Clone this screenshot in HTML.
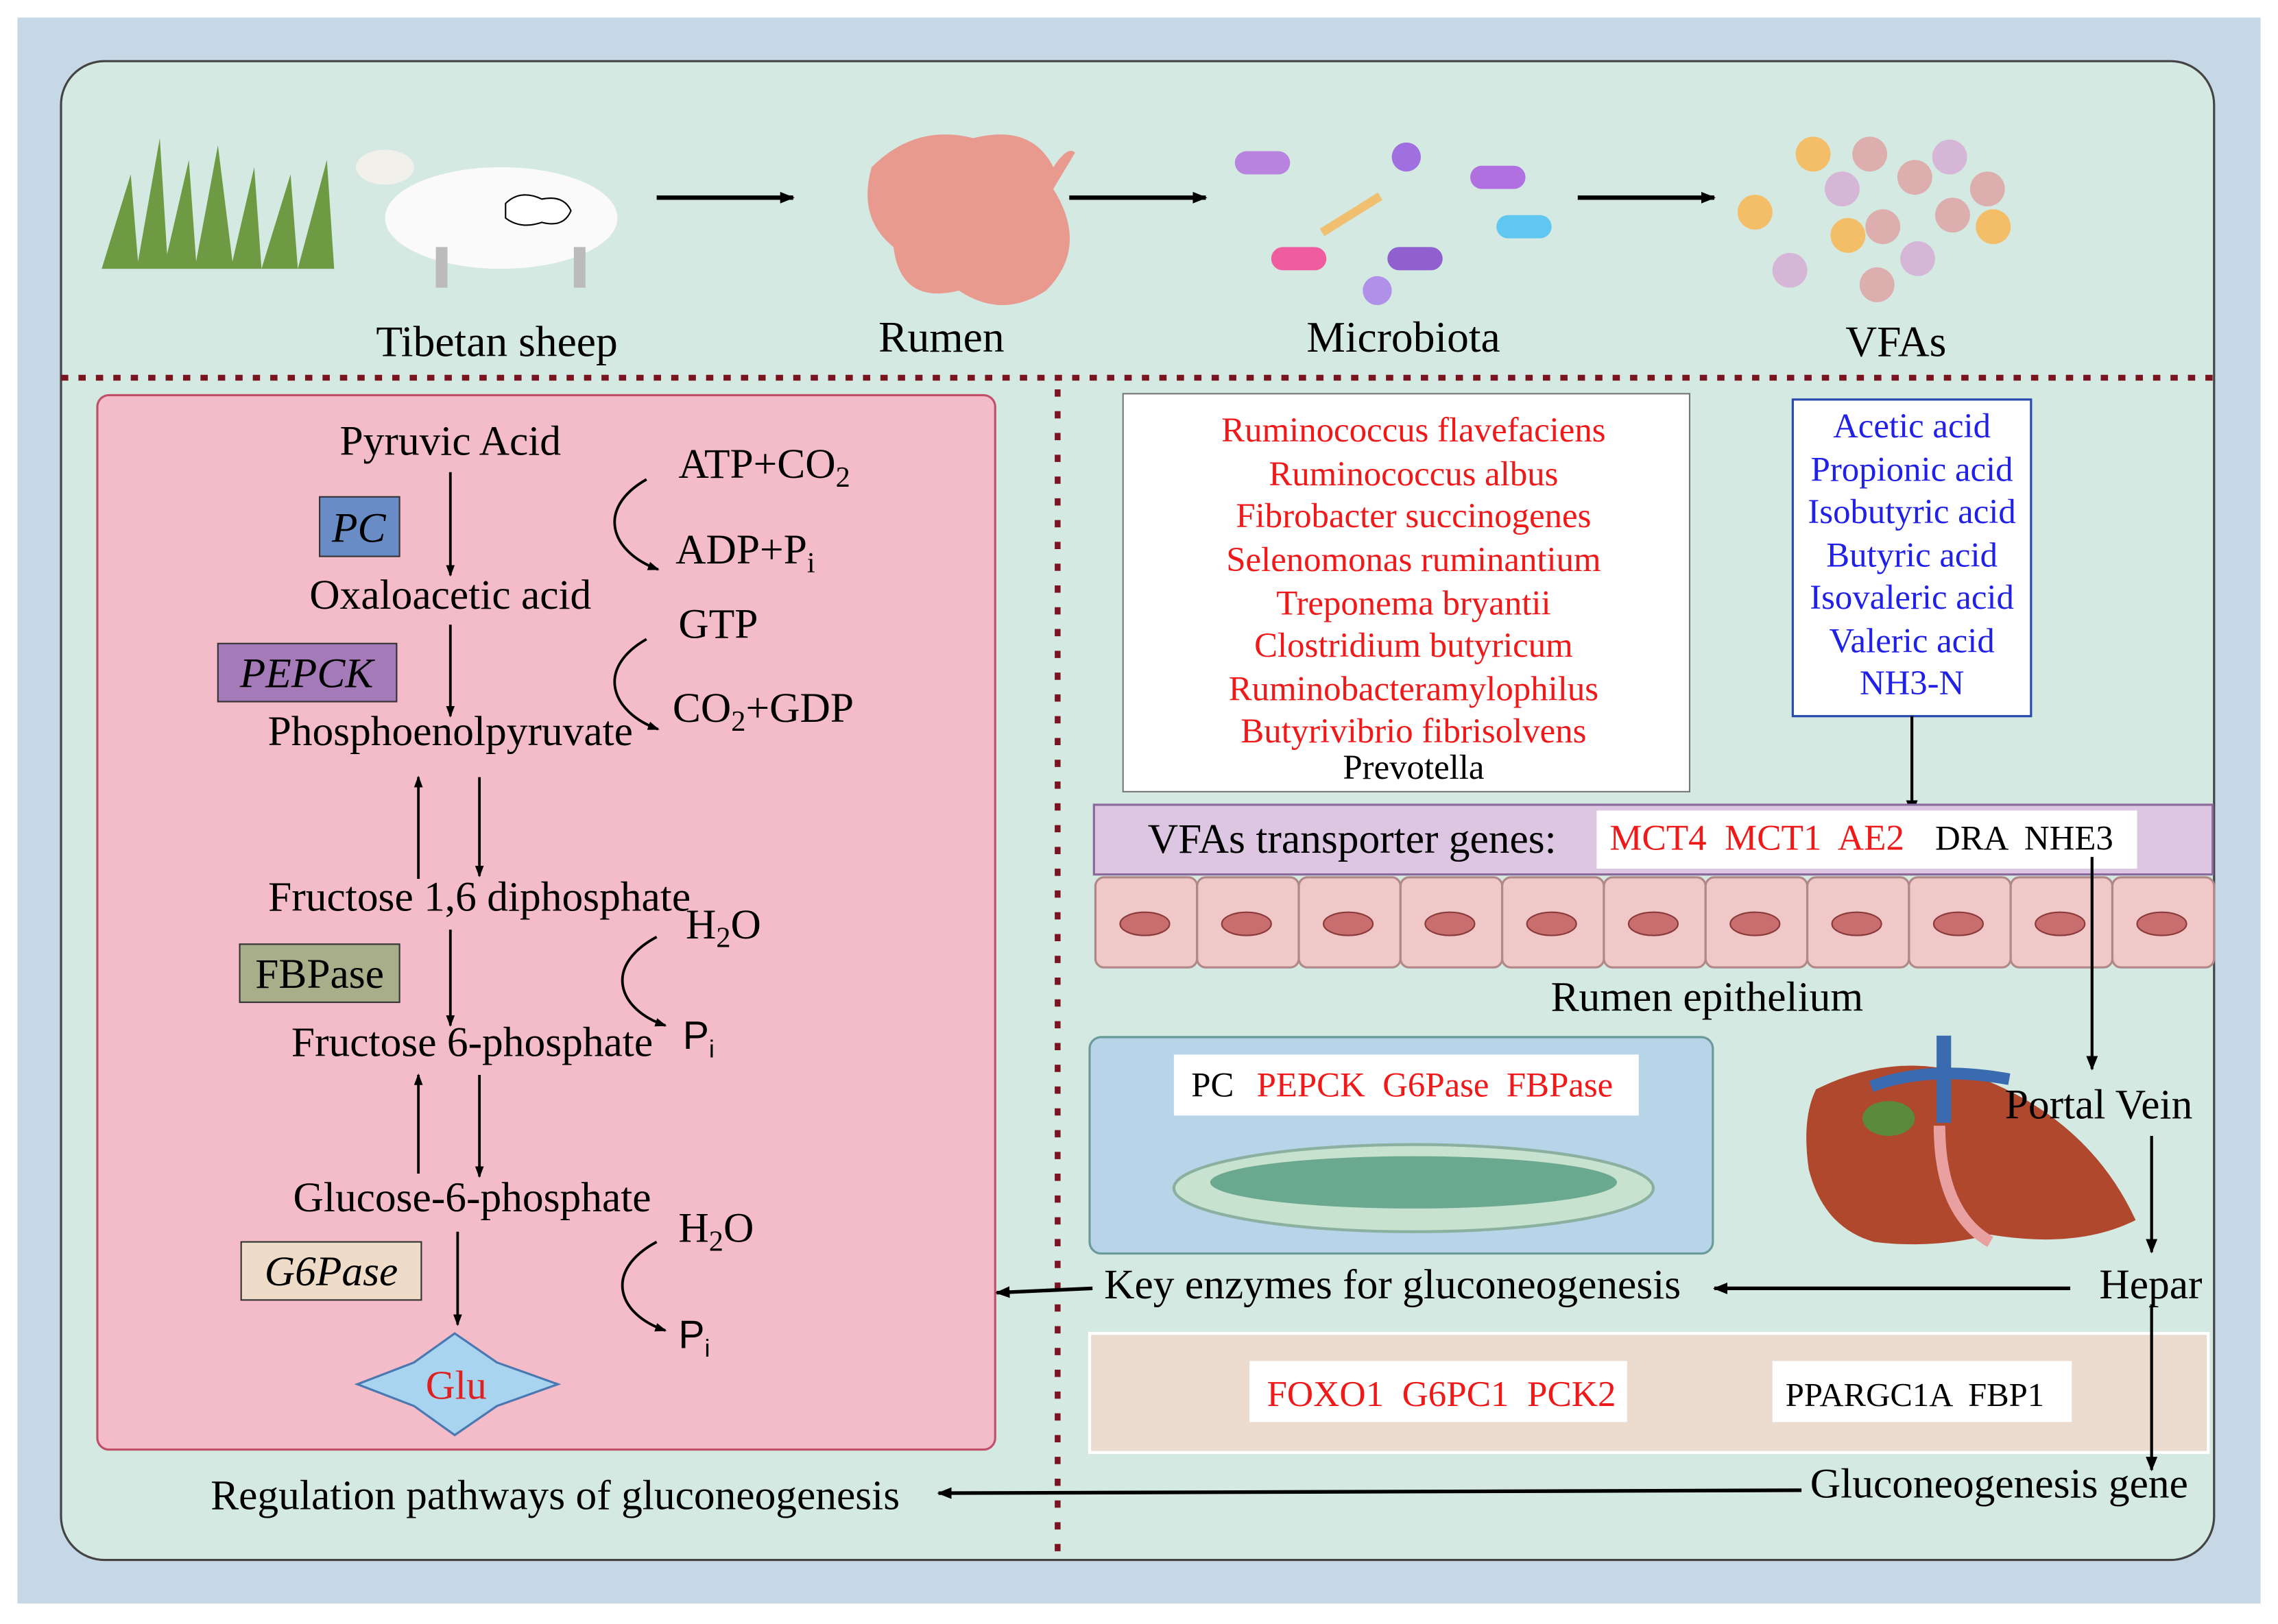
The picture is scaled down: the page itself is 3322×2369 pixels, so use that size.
<!DOCTYPE html>
<html><head><meta charset="utf-8"><style>
html,body{margin:0;padding:0;background:#fff}
svg{display:block}
text{font-family:"Liberation Serif",serif}
</style></head><body>
<svg width="3322" height="2369" viewBox="0 0 1568 1118" xmlns="http://www.w3.org/2000/svg">
<defs>
<marker id="ar" markerWidth="10" markerHeight="10" refX="9" refY="5" orient="auto" markerUnits="userSpaceOnUse"><path d="M0,1 L10,5 L0,9 z" fill="#000"/></marker>
<marker id="as" markerWidth="8" markerHeight="8" refX="7" refY="4" orient="auto" markerUnits="userSpaceOnUse"><path d="M0,1 L8,4 L0,7 z" fill="#000"/></marker>
</defs>
<rect x="0" y="0" width="1568" height="1118" fill="#fff"/>
<rect x="12" y="12" width="1544" height="1092" fill="#c6d7e6"/>
<rect x="42" y="42" width="1482" height="1032" rx="30" fill="#d4e9e1" stroke="#444" stroke-width="1.5"/>
<g>
<path d="M70,185 L90,120 L95,180 L110,95 L115,175 L130,110 L135,180 L150,100 L160,180 L175,115 L180,185 L200,120 L205,185 L225,110 L230,185 Z" fill="#6f9a44"/>
<ellipse cx="345" cy="150" rx="80" ry="35" fill="#fafafa"/>
<ellipse cx="265" cy="115" rx="20" ry="12" fill="#f2f0ea"/>
<rect x="300" y="170" width="8" height="28" fill="#bbb"/><rect x="395" y="170" width="8" height="28" fill="#bbb"/>
<path d="M348,140 q10,-10 25,-3 q15,-3 20,8 q-5,12 -20,8 q-15,5 -25,-3 z" fill="#fff" stroke="#000"/>
<path d="M600,115 q30,-30 70,-20 q40,-10 55,20 q10,-15 15,-10 l-15,25 q25,40 -5,70 q-30,20 -60,0 q-40,10 -45,-30 q-25,-20 -15,-55z" fill="#e89a8e"/>
<rect x="850" y="104" width="38" height="16" rx="8" fill="#b884e0"/>
<rect x="1012" y="114" width="38" height="16" rx="8" fill="#b070e0"/>
<rect x="875" y="170" width="38" height="16" rx="8" fill="#f05ca0"/>
<rect x="955" y="170" width="38" height="16" rx="8" fill="#9060d0"/>
<rect x="1030" y="148" width="38" height="16" rx="8" fill="#60c8f0"/>
<circle cx="968" cy="108" r="10" fill="#a070e0"/>
<circle cx="948" cy="200" r="10" fill="#b090e8"/>
<path d="M910,160 l40,-25" stroke="#f0c070" stroke-width="6"/>
<g fill-opacity="0.9">
<circle cx="1248" cy="106" r="12" fill="#f7b85a"/><circle cx="1287" cy="106" r="12" fill="#dda7a7"/><circle cx="1342" cy="108" r="12" fill="#d6b0d6"/>
<circle cx="1268" cy="130" r="12" fill="#d6b0d6"/><circle cx="1318" cy="122" r="12" fill="#dda7a7"/><circle cx="1368" cy="130" r="12" fill="#dda7a7"/>
<circle cx="1208" cy="146" r="12" fill="#f7b85a"/><circle cx="1296" cy="156" r="12" fill="#dda7a7"/><circle cx="1344" cy="148" r="12" fill="#dda7a7"/>
<circle cx="1272" cy="162" r="12" fill="#f7b85a"/><circle cx="1372" cy="156" r="12" fill="#f7b85a"/><circle cx="1232" cy="186" r="12" fill="#d6b0d6"/>
<circle cx="1320" cy="178" r="12" fill="#d6b0d6"/><circle cx="1292" cy="196" r="12" fill="#dda7a7"/>
</g>
</g>
<g stroke="#000" stroke-width="3" marker-end="url(#ar)">
<line x1="452" y1="136" x2="546" y2="136"/><line x1="736" y1="136" x2="830" y2="136"/><line x1="1086" y1="136" x2="1180" y2="136"/>
</g>
<g font-size="30" text-anchor="middle">
<text x="342" y="245">Tibetan sheep</text><text x="648" y="242">Rumen</text><text x="966" y="242">Microbiota</text><text x="1305" y="245">VFAs</text>
</g>
<line x1="42" y1="260" x2="1524" y2="260" stroke="#7a1420" stroke-width="4" stroke-dasharray="5,7"/>
<line x1="728" y1="268" x2="728" y2="1070" stroke="#7a1420" stroke-width="4" stroke-dasharray="5,10"/>
<rect x="67" y="272" width="618" height="726" rx="8" fill="#f3bcc8" stroke="#c0506a" stroke-width="1.5"/>
<g font-size="29">
<text x="310" y="313" text-anchor="middle">Pyruvic Acid</text>
<text x="310" y="419" text-anchor="middle">Oxaloacetic acid</text>
<text x="310" y="513" text-anchor="middle">Phosphoenolpyruvate</text>
<text x="330" y="627" text-anchor="middle">Fructose 1,6 diphosphate</text>
<text x="325" y="727" text-anchor="middle">Fructose 6-phosphate</text>
<text x="325" y="834" text-anchor="middle">Glucose-6-phosphate</text>
<text x="467" y="329">ATP+CO<tspan font-size="20" dy="6">2</tspan></text>
<text x="465" y="388">ADP+P<tspan font-size="20" dy="6">i</tspan></text>
<text x="467" y="439">GTP</text>
<text x="463" y="497">CO<tspan font-size="20" dy="6">2</tspan><tspan dy="-6">+GDP</tspan></text>
<text x="472" y="646">H<tspan font-size="20" dy="6">2</tspan><tspan dy="-6">O</tspan></text>
<text x="467" y="855">H<tspan font-size="20" dy="6">2</tspan><tspan dy="-6">O</tspan></text>
</g>
<text x="470" y="722" font-size="27" style="font-family:'Liberation Sans',sans-serif">P<tspan font-size="17" dy="6">i</tspan></text><text x="467" y="928" font-size="27" style="font-family:'Liberation Sans',sans-serif">P<tspan font-size="17" dy="6">i</tspan></text>
<rect x="220" y="342" width="55" height="41" fill="#6a8cc6" stroke="#333"/><text x="247" y="373" font-size="29" font-style="italic" text-anchor="middle">PC</text>
<rect x="150" y="443" width="123" height="40" fill="#a47ab8" stroke="#333"/><text x="211" y="473" font-size="29" font-style="italic" text-anchor="middle">PEPCK</text>
<rect x="165" y="650" width="110" height="40" fill="#a8ae8a" stroke="#333"/><text x="220" y="680" font-size="29" text-anchor="middle">FBPase</text>
<rect x="166" y="855" width="124" height="40" fill="#efdcc8" stroke="#333"/><text x="228" y="885" font-size="29" font-style="italic" text-anchor="middle">G6Pase</text>
<g stroke="#000" stroke-width="1.8" marker-end="url(#as)">
<line x1="310" y1="325" x2="310" y2="396"/>
<line x1="310" y1="430" x2="310" y2="493"/>
<line x1="288" y1="605" x2="288" y2="535"/>
<line x1="330" y1="535" x2="330" y2="603"/>
<line x1="310" y1="640" x2="310" y2="706"/>
<line x1="288" y1="808" x2="288" y2="740"/>
<line x1="330" y1="740" x2="330" y2="810"/>
<line x1="315" y1="848" x2="315" y2="912"/>
<path d="M445,330 C410,350 420,380 453,392" fill="none"/>
<path d="M445,440 C410,460 420,490 453,502" fill="none"/>
<path d="M452,645 C415,665 425,695 458,706" fill="none"/>
<path d="M452,855 C415,875 425,905 458,916" fill="none"/>
</g>
<polygon points="246,953 285,938 313,918 342,938 384,953 342,968 313,988 285,968" fill="#a8d4f0" stroke="#4a78b0" stroke-width="1.5"/>
<text x="314" y="963" font-size="28" fill="#e02020" text-anchor="middle">Glu</text>
<rect x="773" y="271" width="390" height="274" fill="#fff" stroke="#777"/>
<g font-size="24" fill="#f01818" text-anchor="middle">
<text x="973" y="304">Ruminococcus flavefaciens</text><text x="973" y="334">Ruminococcus albus</text><text x="973" y="363">Fibrobacter succinogenes</text>
<text x="973" y="393">Selenomonas ruminantium</text><text x="973" y="423">Treponema bryantii</text><text x="973" y="452">Clostridium butyricum</text>
<text x="973" y="482">Ruminobacteramylophilus</text><text x="973" y="511">Butyrivibrio fibrisolvens</text>
<text x="973" y="536" fill="#000">Prevotella</text>
</g>
<rect x="1234" y="275" width="164" height="218" fill="#fff" stroke="#2a4ab0" stroke-width="1.5"/>
<g font-size="24" fill="#2020e8" text-anchor="middle">
<text x="1316" y="301">Acetic acid</text><text x="1316" y="331">Propionic acid</text><text x="1316" y="360">Isobutyric acid</text>
<text x="1316" y="390">Butyric acid</text><text x="1316" y="419">Isovaleric acid</text><text x="1316" y="449">Valeric acid</text><text x="1316" y="478">NH3-N</text>
</g>
<line x1="1316" y1="493" x2="1316" y2="560" stroke="#000" stroke-width="2" marker-end="url(#ar)"/>
<rect x="753" y="554" width="770" height="48" fill="#dcc6e2" stroke="#8a6a9a" stroke-width="1.5"/>
<text x="790" y="587" font-size="29">VFAs transporter genes:</text>
<rect x="1099" y="558" width="372" height="40" fill="#fff"/>
<text x="1108" y="585" font-size="25" fill="#f01818" xml:space="preserve">MCT4  MCT1  AE2</text>
<text x="1332" y="585" font-size="24" xml:space="preserve">DRA  NHE3</text>
<g fill="#f0c8c8" stroke="#b08888" stroke-width="1.5">
<rect x="754" y="604" width="70" height="62" rx="6"/><rect x="824" y="604" width="70" height="62" rx="6"/><rect x="894" y="604" width="70" height="62" rx="6"/><rect x="964" y="604" width="70" height="62" rx="6"/><rect x="1034" y="604" width="70" height="62" rx="6"/><rect x="1104" y="604" width="70" height="62" rx="6"/><rect x="1174" y="604" width="70" height="62" rx="6"/><rect x="1244" y="604" width="70" height="62" rx="6"/><rect x="1314" y="604" width="70" height="62" rx="6"/><rect x="1384" y="604" width="70" height="62" rx="6"/><rect x="1454" y="604" width="70" height="62" rx="6"/>
</g>
<g fill="#c86e6e" stroke="#8a3a3a"><ellipse cx="788" cy="636" rx="17" ry="8"/><ellipse cx="858" cy="636" rx="17" ry="8"/><ellipse cx="928" cy="636" rx="17" ry="8"/><ellipse cx="998" cy="636" rx="17" ry="8"/><ellipse cx="1068" cy="636" rx="17" ry="8"/><ellipse cx="1138" cy="636" rx="17" ry="8"/><ellipse cx="1208" cy="636" rx="17" ry="8"/><ellipse cx="1278" cy="636" rx="17" ry="8"/><ellipse cx="1348" cy="636" rx="17" ry="8"/><ellipse cx="1418" cy="636" rx="17" ry="8"/><ellipse cx="1488" cy="636" rx="17" ry="8"/></g>
<text x="1175" y="696" font-size="29" text-anchor="middle">Rumen epithelium</text>
<polyline points="1440,590 1440,736" fill="none" stroke="#000" stroke-width="2" marker-end="url(#ar)"/>
<rect x="750" y="714" width="429" height="149" rx="8" fill="#b8d4e8" stroke="#6a9a9a" stroke-width="1.5"/>
<rect x="808" y="726" width="320" height="42" fill="#fff"/>
<text x="820" y="755" font-size="24">PC</text>
<text x="865" y="755" font-size="24" fill="#f01818" xml:space="preserve">PEPCK  G6Pase  FBPase</text>
<ellipse cx="973" cy="818" rx="165" ry="30" fill="#c8e2d0" stroke="#8ab0a0" stroke-width="2"/>
<ellipse cx="973" cy="814" rx="140" ry="18" fill="#6aa890"/>
<path d="M1250,750 q60,-30 120,-5 q70,30 100,95 q-40,20 -100,10 q-40,10 -80,5 q-35,-10 -45,-50 q-5,-35 5,-55z" fill="#b0482e"/>
<ellipse cx="1300" cy="770" rx="18" ry="12" fill="#5a8a3a"/>
<rect x="1333" y="713" width="10" height="60" fill="#3a6ab0"/>
<path d="M1288,748 q40,-15 95,-5" stroke="#3a6ab0" stroke-width="8" fill="none"/>
<path d="M1335,775 q0,60 35,80" stroke="#e8a0a0" stroke-width="8" fill="none"/>
<text x="1380" y="770" font-size="29">Portal Vein</text>
<line x1="1481" y1="782" x2="1481" y2="862" stroke="#000" stroke-width="2" marker-end="url(#ar)"/>
<text x="1445" y="894" font-size="29">Hepar</text>
<line x1="1425" y1="887" x2="1180" y2="887" stroke="#000" stroke-width="2.5" marker-end="url(#ar)"/>
<text x="760" y="894" font-size="29">Key enzymes for gluconeogenesis</text>
<line x1="752" y1="887" x2="686" y2="890" stroke="#000" stroke-width="2.5" marker-end="url(#ar)"/>
<rect x="750" y="918" width="770" height="82" fill="#ecdcd0" stroke="#fff" stroke-width="2"/>
<line x1="1481" y1="898" x2="1481" y2="1012" stroke="#000" stroke-width="2" marker-end="url(#ar)"/>
<rect x="860" y="937" width="260" height="42" fill="#fff"/><text x="872" y="968" font-size="25" fill="#f01818" xml:space="preserve">FOXO1  G6PC1  PCK2</text>
<rect x="1220" y="937" width="206" height="42" fill="#fff"/><text x="1229" y="968" font-size="23" xml:space="preserve">PPARGC1A  FBP1</text>
<text x="1246" y="1031" font-size="29">Gluconeogenesis gene</text>
<line x1="1240" y1="1026" x2="646" y2="1028" stroke="#000" stroke-width="2.5" marker-end="url(#ar)"/>
<text x="145" y="1039" font-size="29">Regulation pathways of gluconeogenesis</text>
</svg>
</body></html>
